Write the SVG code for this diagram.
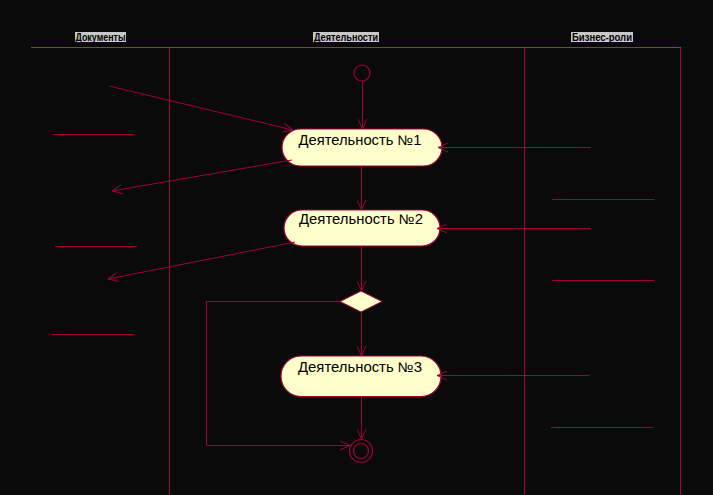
<svg xmlns="http://www.w3.org/2000/svg" width="713" height="495" viewBox="0 0 713 495">
<defs>
<marker id="arr" viewBox="0 0 10 10" refX="10" refY="5" markerWidth="10" markerHeight="10" markerUnits="userSpaceOnUse" orient="auto">
<path d="M0,0.5 L10,5 L0,9.5" fill="none" stroke="#a3003a" stroke-width="1"/>
</marker>
<style>
.ln{stroke:#a3003a;stroke-width:1;fill:none}
.hd{font-family:"Liberation Sans",Arial,sans-serif;font-size:10px;font-weight:bold;fill:#000}
.hbg{fill:#c8c8c8}
.act{fill:#ffffcc;stroke:#a3003a;stroke-width:1.2}
.at{font-family:"Liberation Sans",Arial,sans-serif;font-size:14px;fill:#000}
</style>
</defs>
<rect width="713" height="495" fill="#0a0a0a"/>
<g id="swimlanes">
<line x1="31" y1="47.5" x2="681" y2="47.5" stroke="#cc00cc" stroke-width="1"/>
<line class="ln" x1="169.5" y1="48" x2="169.5" y2="495"/>
<line class="ln" x1="524.5" y1="48" x2="524.5" y2="495"/>
<line class="ln" x1="680.5" y1="48" x2="680.5" y2="495"/>
<rect class="hbg" x="75" y="32" width="51" height="10"/>
<text class="hd" x="100.5" y="40.5" text-anchor="middle" textLength="50" lengthAdjust="spacingAndGlyphs">Документы</text>
<rect class="hbg" x="313" y="32" width="66" height="10"/>
<text class="hd" x="346" y="40.5" text-anchor="middle" textLength="64" lengthAdjust="spacingAndGlyphs">Деятельности</text>
<rect class="hbg" x="571" y="32" width="62" height="10"/>
<text class="hd" x="602" y="40.5" text-anchor="middle" textLength="60" lengthAdjust="spacingAndGlyphs">Бизнес-роли</text>
</g>
<g id="objects">
<line class="ln" x1="53" y1="134.5" x2="134" y2="134.5"/>
<line class="ln" x1="55" y1="246.5" x2="137" y2="246.5"/>
<line class="ln" x1="52" y1="334.5" x2="134" y2="334.5"/>
<line class="ln" x1="552" y1="199.5" x2="654" y2="199.5"/>
<line class="ln" x1="552" y1="280.5" x2="654" y2="280.5"/>
<line class="ln" x1="551" y1="427.5" x2="653" y2="427.5"/>
</g>
<g id="start"><circle cx="362" cy="73" r="8" fill="none" stroke="#a3003a" stroke-width="1.2"/></g>
<g id="act1"><rect class="act" x="282" y="129" width="160" height="37" rx="18.5"/><text class="at" x="360" y="145" text-anchor="middle" textLength="123" lengthAdjust="spacingAndGlyphs">Деятельность №1</text></g>
<g id="act2"><rect class="act" x="284" y="210" width="156" height="36" rx="18"/><text class="at" x="361" y="223.5" text-anchor="middle" textLength="124" lengthAdjust="spacingAndGlyphs">Деятельность №2</text></g>
<g id="decision"><polygon points="361,291 382,301.5 361,312 340,301.5" fill="#ffffcc" stroke="#a3003a" stroke-width="1"/></g>
<g id="act3"><rect class="act" x="281" y="356" width="160" height="40.5" rx="20"/><text class="at" x="360" y="371.5" text-anchor="middle" textLength="124" lengthAdjust="spacingAndGlyphs">Деятельность №3</text></g>
<g id="end"><circle cx="361" cy="451" r="11.5" fill="none" stroke="#a3003a" stroke-width="1.2"/><circle cx="361" cy="451" r="7.5" fill="none" stroke="#a3003a" stroke-width="1.2"/></g>
<g id="connectors">
<line class="ln" x1="362.5" y1="81" x2="362.5" y2="129" marker-end="url(#arr)"/>
<line class="ln" x1="361.5" y1="166" x2="361.5" y2="210" marker-end="url(#arr)"/>
<line class="ln" x1="361.5" y1="246" x2="361.5" y2="291" marker-end="url(#arr)"/>
<line class="ln" x1="361.5" y1="312" x2="361.5" y2="356" marker-end="url(#arr)"/>
<line class="ln" x1="361.5" y1="397" x2="361.5" y2="439" marker-end="url(#arr)"/>
<polyline class="ln" points="340,301.5 206.5,301.5 206.5,445.5 350,445.5" marker-end="url(#arr)"/>
<line class="ln" x1="109" y1="86" x2="293" y2="130" marker-end="url(#arr)"/>
<line class="ln" x1="292" y1="160" x2="112" y2="191" marker-end="url(#arr)"/>
<line class="ln" x1="295" y1="242" x2="108" y2="279" marker-end="url(#arr)"/>
<line class="ln" x1="591" y1="147.5" x2="438" y2="147.5" marker-end="url(#arr)"/>
<line class="ln" x1="591" y1="228.5" x2="437" y2="228.5" marker-end="url(#arr)"/>
<line class="ln" x1="589" y1="375.5" x2="437" y2="375.5" marker-end="url(#arr)"/>
</g>
</svg>
